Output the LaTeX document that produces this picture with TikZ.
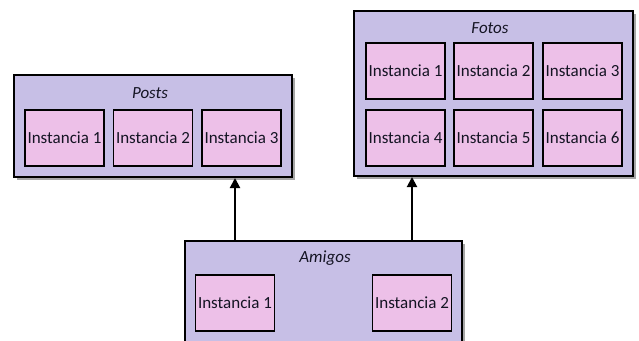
\documentclass[tikz,border=0pt]{standalone}
\usepackage{fontspec}
\setmainfont{Carlito}
\usetikzlibrary{shadows,arrows.meta,calc}
\definecolor{outerfill}{RGB}{199,191,230}
\definecolor{innerfill}{RGB}{237,192,232}
\definecolor{txt}{RGB}{20,20,35}
\tikzset{
  outerbox/.style={draw=black, line width=2pt, fill=outerfill, rectangle, inner sep=0pt,
    drop shadow={shadow xshift=2.5pt, shadow yshift=-2.5pt, opacity=0.35, fill=black}},
  innerbox/.style={draw=black, line width=1.8pt, fill=innerfill, rectangle, inner sep=0pt,
    minimum width=79pt, minimum height=56pt, font=\fontsize{17}{20}\selectfont, text=txt},
  titlelbl/.style={font=\fontsize{17}{20}\selectfont\itshape, text=txt, inner sep=0pt},
  conn/.style={line width=2pt, -{Triangle[length=10pt,width=10pt]}}
}
\begin{document}
\begin{tikzpicture}[x=1pt,y=-1pt]
\useasboundingbox (0,0) rectangle (639,340);
% Posts
\node[outerbox, minimum width=278pt, minimum height=102pt] (posts) at (153,126) {};
\node[titlelbl] (poststitle) at (150,93) {Posts};
\node[innerbox] (p1) at (64.5,138) {Instancia 1};
\node[innerbox] (p2) at (153,138) {Instancia 2};
\node[innerbox] (p3) at (241.5,138) {Instancia 3};
% Fotos
\node[outerbox, minimum width=279pt, minimum height=165pt] (fotos) at (493.5,93.5) {};
\node[titlelbl] (fotostitle) at (490,28) {Fotos};
\node[innerbox] (f1) at (405.5,71) {Instancia 1};
\node[innerbox] (f2) at (493.5,71) {Instancia 2};
\node[innerbox] (f3) at (582.5,71) {Instancia 3};
\node[innerbox] (f4) at (405.5,138) {Instancia 4};
\node[innerbox] (f5) at (493.5,138) {Instancia 5};
\node[innerbox] (f6) at (582.5,138) {Instancia 6};
% Amigos
\node[outerbox, minimum width=277pt, minimum height=110pt] (amigos) at (323.5,296) {};
\node[titlelbl] (amigostitle) at (325,258) {Amigos};
\node[innerbox] (a1) at (235,303) {Instancia 1};
\node[innerbox] (a2) at (412,303) {Instancia 2};
% connectors
\draw[conn] (a1 |- amigos.north) -- (a1 |- posts.south);
\draw[conn] (a2 |- amigos.north) -- (a2 |- fotos.south);
\end{tikzpicture}
\end{document}
